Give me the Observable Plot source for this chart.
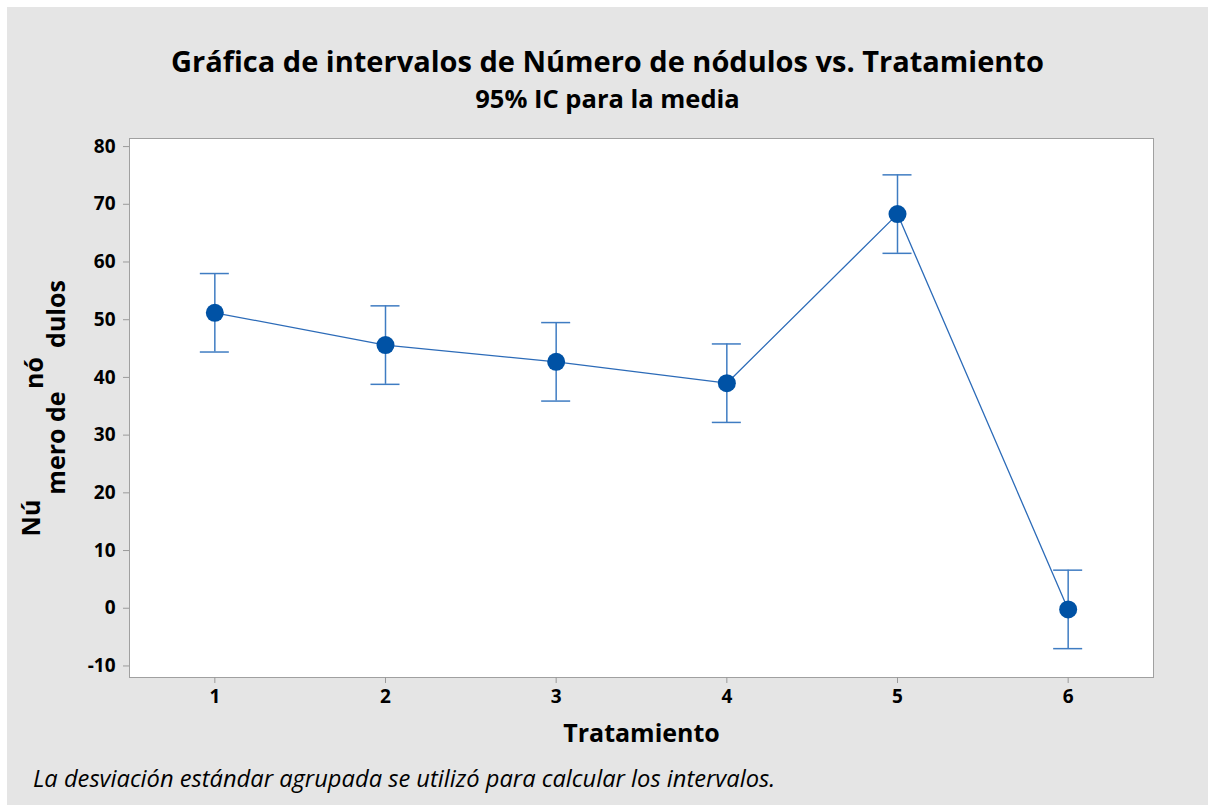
<!DOCTYPE html>
<html><head><meta charset="utf-8">
<script src="https://cdn.jsdelivr.net/npm/d3@7"></script>
<script src="https://cdn.jsdelivr.net/npm/@observablehq/plot@0.6"></script>
<style>
body{margin:0;background:#fff;font-family:"Open Sans",sans-serif;}
#wrap{position:absolute;left:7px;top:7px;width:1201px;height:798px;background:#e5e5e5;overflow:hidden;}
.t{position:absolute;left:0;width:1201px;text-align:center;line-height:1;color:#000;font-weight:700;white-space:nowrap;}
#title{top:39px;font-size:29px;}
#subtitle{top:78.5px;font-size:25.5px;}
#caption{position:absolute;left:26px;top:760px;font-size:23.7px;font-style:italic;line-height:1;color:#000;white-space:nowrap;}
#chart{position:absolute;left:0;top:113px;}
#chart g[aria-label="x-axis tick"], #chart g[aria-label="y-axis tick"]{stroke:#9a9a9a;}
#chart g[aria-label="x-axis tick label"], #chart g[aria-label="y-axis tick label"]{font-weight:700;}
</style></head>
<body>
<div id="wrap">
  <div class="t" id="title">Gráfica de intervalos de Número de nódulos vs. Tratamiento</div>
  <div class="t" id="subtitle">95% IC para la media</div>
  <div id="chart"></div>
  <div id="caption">La desviación estándar agrupada se utilizó para calcular los intervalos.</div>
</div>
<script>
const treatments = [1, 2, 3, 4, 5, 6];
const means = [51.2, 45.6, 42.7, 39.0, 68.3, -0.2];
const lower = [44.4, 38.8, 35.9, 32.2, 61.5, -7.0];
const upper = [58.0, 52.4, 49.5, 45.8, 75.1, 6.6];
const yTicks = [-10, 0, 10, 20, 30, 40, 50, 60, 70, 80];

const data = treatments.map((t, i) => ({t, mean: means[i], lo: lower[i], hi: upper[i]}));
const capHalf = 0.085;
const lineColor = "#2c6bb8";
const barColor = "#3f7cc2";
const dotColor = "#0052a5";

const plot = Plot.plot({
  width: 1201, height: 635,
  marginLeft: 122, marginRight: 55, marginTop: 18, marginBottom: 78,
  style: {background: "transparent", fontFamily: "Open Sans, sans-serif", color: "#000"},
  x: {domain: [0.5, 6.5], axis: null},
  y: {domain: [-12, 81.4], axis: null},
  marks: [
    Plot.frame({fill: "#fff", stroke: "#a0a0a0"}),
    Plot.axisX({ticks: treatments, tickSize: 6, tickPadding: 6, fontSize: 19, label: null, tickFormat: d => String(d)}),
    Plot.axisY({ticks: yTicks, tickSize: 6, tickPadding: 8, fontSize: 19, label: null, tickFormat: d => String(d)}),
    Plot.line(data, {x: "t", y: "mean", stroke: lineColor, strokeWidth: 1.3}),
    Plot.ruleX(data, {x: "t", y1: "lo", y2: "hi", stroke: barColor, strokeWidth: 1.5}),
    Plot.ruleY(data, {y: "hi", x1: d => d.t - capHalf, x2: d => d.t + capHalf, stroke: barColor, strokeWidth: 1.5}),
    Plot.ruleY(data, {y: "lo", x1: d => d.t - capHalf, x2: d => d.t + capHalf, stroke: barColor, strokeWidth: 1.5}),
    Plot.dot(data, {x: "t", y: "mean", r: 9, fill: dotColor, stroke: "none"}),
    Plot.text(["Tratamiento"], {frameAnchor: "bottom", dy: 64, fontSize: 25, fontWeight: "bold", fill: "#000"})
  ]
});
document.getElementById("chart").appendChild(plot);

// y-axis label, reproduced in its broken two-line layout
const yLabelParts = [
  {text: "Nú", x: 23, y: 398},
  {text: "nó", x: 26, y: 253},
  {text: "mero de", x: 48, y: 323},
  {text: "dulos", x: 48, y: 194}
];
const svg = d3.select(plot);
svg.append("g").selectAll("text").data(yLabelParts).join("text")
  .attr("transform", d => `translate(${d.x},${d.y}) rotate(-90)`)
  .attr("text-anchor", "middle")
  .attr("dominant-baseline", "central")
  .attr("font-size", 25)
  .attr("font-weight", 700)
  .attr("font-family", "Open Sans, sans-serif")
  .attr("fill", "#000")
  .text(d => d.text);
</script>
</body></html>
